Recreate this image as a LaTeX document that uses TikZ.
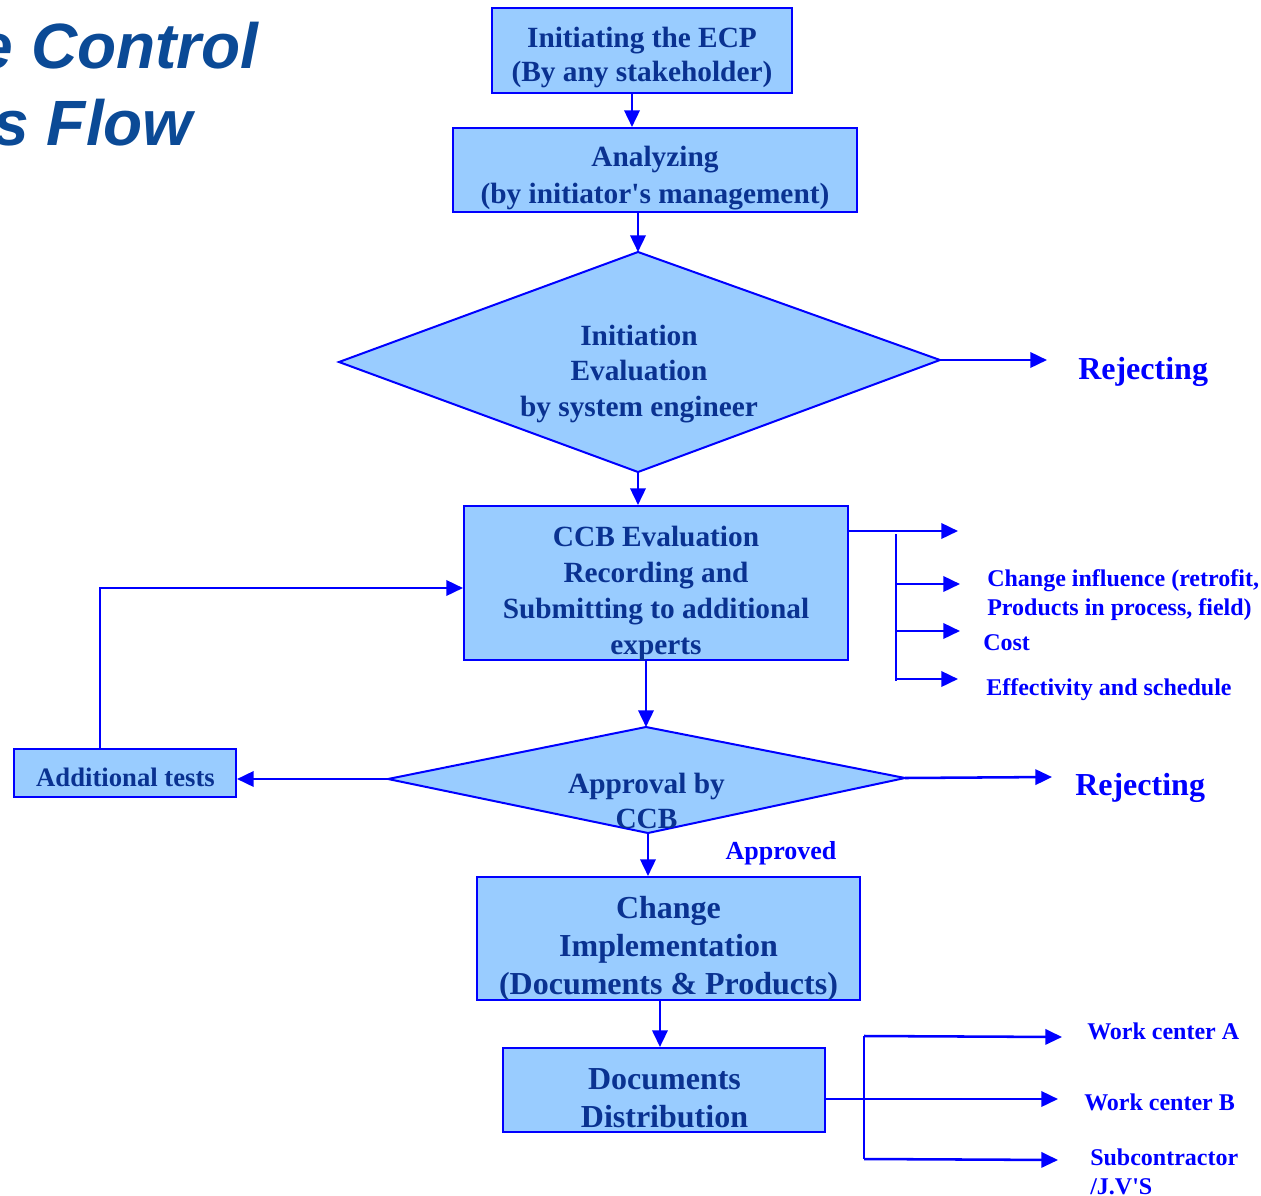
\documentclass[tikz,border=0pt]{standalone}
\usepackage{fontspec}
\setmainfont{Liberation Serif}
\newfontfamily\titlefont{Liberation Sans}
\usetikzlibrary{arrows.meta}
\definecolor{boxfill}{RGB}{153,204,255}
\definecolor{edgeblue}{RGB}{0,0,255}
\definecolor{navy}{RGB}{10,50,145}
\definecolor{titleblue}{RGB}{11,74,150}
\begin{document}
\begin{tikzpicture}[x=0.75pt,y=-0.75pt,
  box/.style={draw=edgeblue, line width=1.5pt, fill=boxfill, inner sep=0pt},
  txt/.style={text=navy, font=\bfseries\fontsize{22}{27}\selectfont, align=center, inner sep=0pt},
  dia/.style={draw=edgeblue, line width=1.5pt, fill=boxfill, line join=miter},
  arr/.style={draw=edgeblue, line width=1.9pt, -{Triangle[length=12.5pt,width=11.5pt]}},
  ln/.style={draw=edgeblue, line width=1.9pt},
  lbl/.style={text=edgeblue, font=\bfseries\fontsize{18}{21.75}\selectfont, align=left, inner sep=0pt},
  rej/.style={text=edgeblue, font=\bfseries\fontsize{24}{28}\selectfont, inner sep=0pt},
  ttl/.style={text=titleblue, font=\titlefont\bfseries\itshape\fontsize{48}{56}\selectfont, inner sep=0pt, anchor=base east}
]
\useasboundingbox (0,0) rectangle (1261,1196);

% title (cut at the left edge)
\begin{scope}
  \clip (0,0) rectangle (1261,1196);
  \node[ttl] (t1) at (259,68) {e Control};
  \node[ttl] (t2) at (193,145) {s Flow};
\end{scope}

% boxes
\node[box, minimum width=225pt, minimum height=63.75pt] (b1) at (642,50.5) {};
\node[txt, font=\bfseries\fontsize{22}{25}\selectfont] (b1t) at (642,57.5) {Initiating the ECP\\(By any stakeholder)};

\node[box, minimum width=303pt, minimum height=63pt] (b2) at (655,170) {};
\node[txt, font=\bfseries\fontsize{22}{27.75}\selectfont] (b2t) at (655,178) {Analyzing\\(by initiator\textquotesingle s management)};

\coordinate (d1l) at (339,362);
\coordinate (d1t) at (638,252);
\coordinate (d1r) at (940,360);
\coordinate (d1b) at (638,472);
\path[dia] (d1l) -- (d1t) -- (d1r) -- (d1b) -- cycle;
\node[txt, font=\bfseries\fontsize{22}{26.6}\selectfont] (d1text) at (639,374) {Initiation\\Evaluation\\by system engineer};

\node[box, minimum width=288pt, minimum height=115.5pt] (ccb) at (656,583) {};
\node[txt] (ccbt) at (656,593.5) {CCB Evaluation\\Recording and\\Submitting to additional\\experts};

\coordinate (d2l) at (388,779);
\coordinate (d2t) at (646,727);
\coordinate (d2r) at (905,778);
\coordinate (d2b) at (648,833);
\path[dia] (d2l) -- (d2t) -- (d2r) -- (d2b) -- cycle;
\node[txt, font=\bfseries\fontsize{22}{26.25}\selectfont] (d2text) at (646.5,800.5) {Approval by\\CCB};

\node[box, minimum width=166.5pt, minimum height=36pt] (at) at (125,773) {};
\node[txt, font=\bfseries\fontsize{20}{24}\selectfont, anchor=base] (att) at (125.5,786) {Additional tests};

\node[box, minimum width=287.25pt, minimum height=92.25pt] (ch) at (668.5,938.5) {};
\node[txt, font=\bfseries\fontsize{24}{28.5}\selectfont] (cht) at (668.5,948.5) {Change\\Implementation\\(Documents \& Products)};

\node[box, minimum width=241.5pt, minimum height=63pt] (dc) at (664,1090) {};
\node[txt, font=\bfseries\fontsize{24}{28.5}\selectfont] (dct) at (664.5,1098) {Documents\\Distribution};

% main flow
\draw[arr] ([xshift=-7.5pt]b1.south) -- ([xshift=-7.5pt]b1.south |- b2.north);
\draw[arr] (d1t |- b2.south) -- (d1t);
\draw[arr] (d1b) -- (d1b |- ccb.north);
\draw[arr] ([xshift=-7.5pt]ccb.south) -- (d2t);
\draw[arr] (d2b) -- (d2b |- ch.north);
\draw[arr] ([xshift=-6.4pt]ch.south) -- ([xshift=-6.4pt]ch.south |- dc.north);

% rejecting branches
\coordinate (r1end) at (1047,360);
\draw[arr] (d1r) -- (r1end);
\node[rej, anchor=base west] (rej1) at (1078,379) {Rejecting};
\coordinate (r2end) at (1052,777);
\draw[arr] (d2r) -- (r2end);
\node[rej, anchor=base west] (rej2) at (1075,795) {Rejecting};

% additional tests loop
\draw[arr] (d2l) -- (d2l -| at.east);
\draw[arr] ([xshift=-18.75pt]at.north) |- ([yshift=-3.75pt]ccb.west);

\node[lbl, font=\bfseries\fontsize{19.5}{23}\selectfont, anchor=base] (appr) at (781,859) {Approved};

% CCB evaluation aspects
\coordinate (c1end) at (958,531);
\draw[arr] (ccb.east |- c1end) -- (c1end);
\coordinate (v1top) at (896,534);
\coordinate (v1bot) at (896,681);
\draw[ln] (v1top) -- (v1bot);
\coordinate (e1) at (960,584);
\coordinate (e2) at (960,631);
\coordinate (e3) at (958,679);
\draw[arr] (v1top |- e1) -- (e1);
\draw[arr] (v1top |- e2) -- (e2);
\draw[arr] (v1top |- e3) -- (e3);
\node[lbl, anchor=west] (ci) at (987,595) {Change influence (retrofit,\\Products in process, field)};
\node[lbl, anchor=base west] (cost) at (983,650) {Cost};
\node[lbl, anchor=base west] (eff) at (986,695) {Effectivity and schedule};

% distribution
\coordinate (w2end) at (1058,1099);
\draw[arr] ([yshift=-6.75pt]dc.east) -- (w2end);
\coordinate (v2top) at (864,1036);
\coordinate (v2bot) at (864,1159);
\draw[ln] (v2top) -- (v2bot);
\coordinate (w1end) at (1062,1037);
\coordinate (w3end) at (1058,1160);
\draw[arr] (v2top) -- (w1end);
\draw[arr] (v2bot) -- (w3end);
\node[lbl, anchor=base west] (wa) at (1087,1039) {Work center A};
\node[lbl, anchor=base west] (wb) at (1084,1110) {Work center B};
\node[lbl, anchor=west] (sub) at (1090,1172) {Subcontractor\\/J.V\textquotesingle S};
\end{tikzpicture}
\end{document}
